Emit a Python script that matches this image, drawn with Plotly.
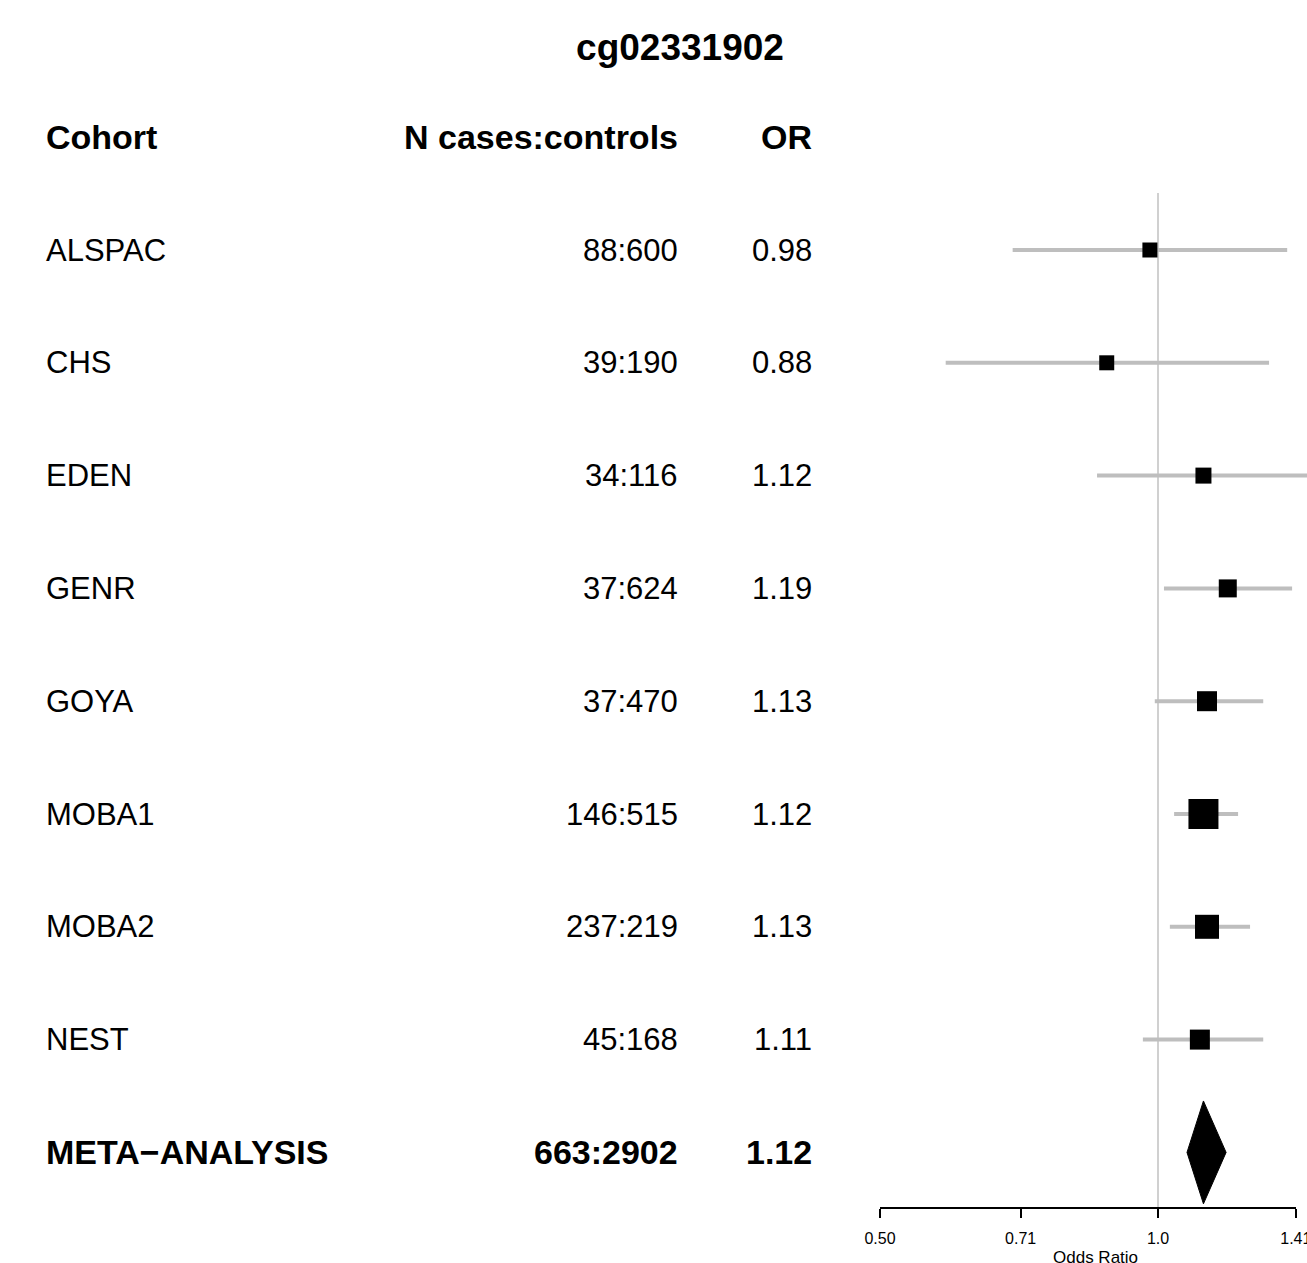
import plotly.graph_objects as go
import math

title = "cg02331902"
cohorts = ["ALSPAC", "CHS", "EDEN", "GENR", "GOYA", "MOBA1", "MOBA2", "NEST"]
n_cases_controls = ["88:600", "39:190", "34:116", "37:624", "37:470", "146:515", "237:219", "45:168"]
odds_ratio = [0.98, 0.88, 1.12, 1.19, 1.13, 1.12, 1.13, 1.11]
ci_lower = [0.696, 0.589, 0.859, 1.015, 0.992, 1.041, 1.030, 0.963]
ci_upper = [1.380, 1.319, 1.50, 1.397, 1.300, 1.221, 1.258, 1.300]
box_size = [15, 15, 16, 18, 20, 30, 24, 20]

meta_label = "META\u2212ANALYSIS"
meta_n = "663:2902"
meta_or = 1.12
meta_lower = 1.075
meta_upper = 1.185

headers = ["Cohort", "N cases:controls", "OR"]
tick_values = [0.50, 0.71, 1.0, 1.41]
tick_labels = ["0.50", "0.71", "1.0", "1.41"]
axis_title = "Odds Ratio"

W, H = 1307, 1263
FONT = "Liberation Sans, Arial, sans-serif"

# pixel geometry helpers (layout only)
px_one = 1158.0
px_per_log10 = 278.0 / math.log10(2)
x_range = [(0 - px_one) / px_per_log10, (W - px_one) / px_per_log10]
row0_px, row_step = 250.0, 112.8
y_top = (0 - row0_px) / row_step
y_bot = (H - row0_px) / row_step
axis_px = 1208.0
axis_row = (axis_px - row0_px) / row_step

n = len(cohorts)
rows = list(range(n))
meta_row = n

fig = go.Figure()

# reference line at OR = 1
fig.add_trace(go.Scatter(x=[1.0, 1.0], y=[(193 - row0_px) / row_step, axis_row], mode="lines",
                         line=dict(color="#d0d0d0", width=2), hoverinfo="skip", showlegend=False))

# confidence intervals
for i in rows:
    fig.add_trace(go.Scatter(x=[ci_lower[i], ci_upper[i]], y=[i, i], mode="lines",
                             line=dict(color="#bebebe", width=4), hoverinfo="skip", showlegend=False))

# point estimates
fig.add_trace(go.Scatter(x=odds_ratio, y=rows, mode="markers",
                         marker=dict(symbol="square", size=box_size, color="black", opacity=1,
                                     line=dict(width=0)),
                         showlegend=False))

# meta-analysis diamond
half_h = 0.456
fig.add_trace(go.Scatter(x=[meta_lower, meta_or, meta_upper, meta_or, meta_lower],
                         y=[meta_row, meta_row - half_h, meta_row, meta_row + half_h, meta_row],
                         mode="lines", fill="toself", fillcolor="black",
                         line=dict(color="black", width=1), showlegend=False))

# invisible trace for the visible odds-ratio axis
fig.add_trace(go.Scatter(x=tick_values, y=[axis_row] * len(tick_values), xaxis="x2", yaxis="y",
                         mode="markers", marker=dict(opacity=0), hoverinfo="skip", showlegend=False))

annotations = []
col_x = [45, 679, 813]
col_anchor = ["left", "right", "right"]
for h, cx, an in zip(headers, col_x, col_anchor):
    annotations.append(dict(text=f"<b>{h}</b>", x=cx / W, xref="paper", y=-1, yref="y",
                            xanchor=an, yanchor="middle", showarrow=False, borderpad=0,
                            font=dict(family=FONT, size=34, color="black")))
for i in rows:
    vals = [cohorts[i], n_cases_controls[i], f"{odds_ratio[i]:.2f}"]
    for v, cx, an in zip(vals, col_x, col_anchor):
        annotations.append(dict(text=v, x=cx / W, xref="paper", y=i, yref="y",
                                xanchor=an, yanchor="middle", showarrow=False, borderpad=0,
                                font=dict(family=FONT, size=31, color="black")))
for v, cx, an in zip([meta_label, meta_n, f"{meta_or:.2f}"], col_x, col_anchor):
    annotations.append(dict(text=f"<b>{v}</b>", x=cx / W, xref="paper", y=meta_row, yref="y",
                            xanchor=an, yanchor="middle", showarrow=False, borderpad=0,
                            font=dict(family=FONT, size=34, color="black")))

# axis title (at the bottom edge, as in the original)
annotations.append(dict(text=axis_title, x=1095 / W, xref="paper", y=(H - 1247) / H, yref="paper",
                        xanchor="center", yanchor="top", showarrow=False, borderpad=0,
                        font=dict(family=FONT, size=17, color="black")))

lo_px = px_one + px_per_log10 * math.log10(tick_values[0])
hi_px = px_one + px_per_log10 * math.log10(tick_values[-1])

fig.update_layout(
    width=W, height=H,
    margin=dict(l=0, r=0, t=0, b=0, autoexpand=False),
    paper_bgcolor="white", plot_bgcolor="rgba(0,0,0,0)",
    title=dict(text=f"<b>{title}</b>", x=680 / W, xanchor="center", y=1 - 47 / H, yanchor="middle",
               font=dict(family=FONT, size=37, color="black")),
    xaxis=dict(type="log", range=x_range, domain=[0, 1], visible=False, fixedrange=True,
               automargin=False),
    xaxis2=dict(type="log", range=[math.log10(tick_values[0]), math.log10(tick_values[-1])],
                domain=[lo_px / W, hi_px / W], anchor="free", position=(H - axis_px) / H,
                showline=True, linecolor="black", linewidth=1.5, ticks="outside", ticklen=9,
                tickwidth=1.5, tickcolor="black", tickvals=tick_values, ticktext=tick_labels,
                ticklabeloverflow="allow", ticklabelstandoff=7, automargin=False,
                tickfont=dict(family=FONT, size=16, color="black"), showgrid=False, zeroline=False,
                fixedrange=True),
    yaxis=dict(range=[y_bot, y_top], domain=[0, 1], visible=False, fixedrange=True, automargin=False),
    annotations=annotations,
    showlegend=False,
)

fig.write_html("out.html")
